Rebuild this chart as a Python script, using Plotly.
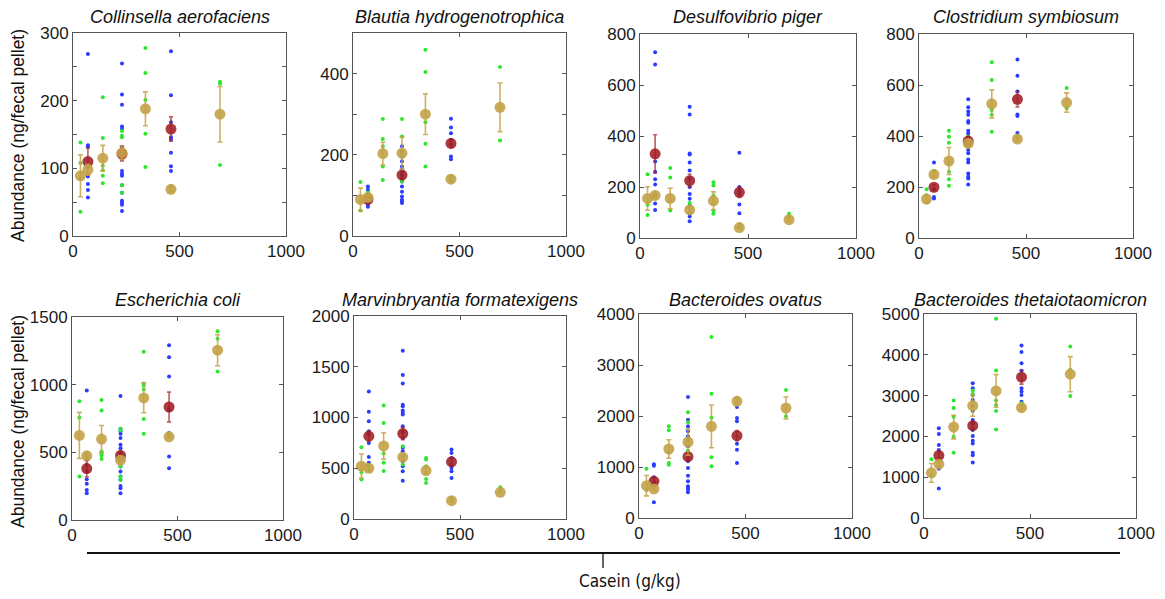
import plotly.graph_objects as go

# ---------------- data ----------------
TITLES = ["Collinsella aerofaciens", "Blautia hydrogenotrophica", "Desulfovibrio piger",
          "Clostridium symbiosum", "Escherichia coli", "Marvinbryantia formatexigens",
          "Bacteroides ovatus", "Bacteroides thetaiotaomicron"]

GOLD_X = [35, 70, 140, 230, 340, 460, 690]   # casein levels (g/kg)
RED_X = [70, 230, 460]

# Collinsella aerofaciens
ca_blue = [[269, 134, 132, 102, 88, 77, 68, 57],
           [255, 209, 194, 162, 158, 132, 129, 126, 96, 92, 89, 75, 64, 52, 49, 46, 37],
           [273, 208, 168, 146, 143, 123, 103, 96]]
ca_green = [[138, 108, 36, 85], [105, 92], [205, 145, 104, 97, 89, 78], [155, 148, 146, 75, 64],
            [278, 241, 201, 151, 102], [74, 66], [228, 225, 105]]
ca_gold = [89, 98, 115, 123, 188, 69, 180]
ca_gold_err = [31, 8, 19, 10, 25, 3, 41]
ca_red = [110, 121, 158]
ca_red_err = [20, 10, 18]

# Blautia hydrogenotrophica
bh_blue = [[122, 114, 105, 97, 89, 80, 77, 72],
           [221, 208, 196, 184, 171, 163, 159, 151, 142, 134, 122, 109, 97, 89, 85, 81],
           [289, 267, 253, 237, 225, 196, 189]]
bh_green = [[133, 63, 85], [107, 97], [288, 239, 221, 171, 138], [288, 245, 200, 134],
            [459, 404, 280, 227, 171], [148, 135], [416, 235]]
bh_gold = [90, 95, 203, 204, 300, 140, 317]
bh_gold_err = [28, 5, 28, 40, 50, 3, 60]
bh_red = [90, 150, 228]
bh_red_err = [8, 10, 10]

# Desulfovibrio piger
dp_blue = [[728, 680, 300, 260, 230, 210, 170, 135, 110],
           [515, 484, 331, 327, 296, 265, 233, 200, 173, 154, 127, 95, 84, 66],
           [334, 200, 173, 131, 97, 185]]
dp_green = [[250, 90, 130], [175, 160], [275, 237, 145, 108], [137, 121, 100],
            [219, 206, 167, 139, 108, 95], [53, 45], [95, 81]]
dp_gold = [155, 167, 155, 110, 146, 41, 72]
dp_gold_err = [46, 6, 40, 8, 35, 4, 6]
dp_red = [330, 225, 179]
dp_red_err = [75, 25, 20]

# Clostridium symbiosum
cs_blue = [[296, 161, 155, 190],
           [544, 513, 496, 483, 459, 452, 421, 410, 397, 384, 361, 345, 332, 308, 296, 253, 240, 233, 210],
           [700, 636, 575, 484, 478, 412]]
cs_green = [[191, 168, 139], [264, 240], [421, 397, 374, 292, 260, 230, 205], [397, 384],
            [689, 620, 502, 483, 417], [393, 400], [588, 509]]
cs_gold = [153, 249, 302, 371, 526, 388, 531]
cs_gold_err = [10, 8, 53, 15, 55, 6, 38]
cs_red = [199, 380, 544]
cs_red_err = [10, 15, 30]

# Escherichia coli
ec_blue = [[956, 445, 408, 358, 301, 267, 222, 198],
           [917, 675, 655, 638, 605, 556, 531, 494, 432, 395, 358, 321, 297, 252, 235, 198],
           [1292, 1203, 1060, 815, 642, 469, 383]]
ec_green = [[877, 758, 321], [494, 470], [887, 810, 506, 494, 477, 450], [675, 662, 395, 321, 297],
            [1243, 1008, 993, 964, 746, 638], [638, 620], [1394, 1339, 1097]]
ec_gold = [625, 474, 598, 442, 902, 615, 1255]
ec_gold_err = [170, 20, 100, 30, 110, 10, 115]
ec_red = [380, 477, 835]
ec_red_err = [60, 30, 110]

# Marvinbryantia formatexigens
mf_blue = [[1257, 1056, 964, 865, 832, 750, 612, 553],
           [1658, 1418, 1336, 1125, 1112, 1069, 1046, 1030, 915, 859, 799, 701, 668, 625, 569, 520, 470, 378],
           [684, 651, 602, 536, 503, 470, 405]]
mf_green = [[707, 388, 460], [520, 480], [1118, 947, 645, 553, 474], [717, 536],
            [602, 586, 520, 454, 395, 355], [207, 190], [312, 280]]
mf_gold = [520, 500, 720, 609, 477, 181, 263]
mf_gold_err = [120, 15, 130, 20, 40, 8, 10]
mf_red = [816, 842, 563]
mf_red_err = [50, 60, 40]

# Bacteroides ovatus
bo_blue = [[1052, 1026, 307, 700, 800],
           [2373, 1928, 1797, 1699, 1601, 1523, 1405, 1111, 980, 830, 719, 621, 588, 556, 503],
           [2176, 1961, 1895, 1458, 1340, 1078]]
bo_green = [[967, 556, 550], [634, 600], [1797, 1719, 1287, 1078, 1045], [2072, 1876, 1320, 1190],
            [3549, 2438, 1967, 1190, 1013], [2353, 2300], [2510, 1993]]
bo_gold = [634, 569, 1353, 1490, 1797, 2288, 2157]
bo_gold_err = [200, 30, 180, 260, 420, 30, 215]
bo_red = [719, 1203, 1614]
bo_red_err = [80, 60, 100]

# Bacteroides thetaiotaomicron
bt_blue = [[2197, 2057, 1787, 1664, 1418, 1205, 721],
           [3303, 3180, 3016, 2893, 2746, 2631, 2402, 2320, 2156, 2008, 1893, 1828, 1598, 1541, 1361],
           [4230, 4066, 3795, 3607, 3180, 3098, 3016, 2852]]
bt_green = [[1443, 1049], [1459, 1418], [2877, 2697, 2484, 1992, 1598], [3123, 3041],
            [4885, 3615, 2877, 2771, 2623, 2172], [2812, 2750], [4205, 3631, 2992]]
bt_gold = [1107, 1320, 2230, 2754, 3115, 2705, 3525]
bt_gold_err = [230, 60, 290, 260, 400, 40, 430]
bt_red = [1533, 2262, 3451]
bt_red_err = [100, 80, 170]

# y-axis: max, tick step, label step
Y_MAX = [300, 500, 800, 800, 1500, 2000, 4000, 5000]
Y_TICK = [50, 100, 200, 200, 500, 500, 1000, 1000]
Y_LABEL = [100, 200, 200, 200, 500, 500, 1000, 1000]
X_TICKS = [0, 500, 1000]

PANELS = [
    (ca_blue, ca_green, ca_gold, ca_gold_err, ca_red, ca_red_err),
    (bh_blue, bh_green, bh_gold, bh_gold_err, bh_red, bh_red_err),
    (dp_blue, dp_green, dp_gold, dp_gold_err, dp_red, dp_red_err),
    (cs_blue, cs_green, cs_gold, cs_gold_err, cs_red, cs_red_err),
    (ec_blue, ec_green, ec_gold, ec_gold_err, ec_red, ec_red_err),
    (mf_blue, mf_green, mf_gold, mf_gold_err, mf_red, mf_red_err),
    (bo_blue, bo_green, bo_gold, bo_gold_err, bo_red, bo_red_err),
    (bt_blue, bt_green, bt_gold, bt_gold_err, bt_red, bt_red_err),
]

# ---------------- layout geometry (pixels) ----------------
W, H = 1165, 599
BOXES = [(73, 286, 33, 236), (353, 566, 33, 236), (640, 856, 34, 238), (919, 1133, 34, 238),
         (72, 283, 317, 520), (354, 566, 316, 519), (639, 852, 314, 518), (924, 1136, 314, 518)]


def px(x):
    return x / W


def py(y):
    return 1 - y / H


BLUE = "#2a3dff"
GREEN = "#2ee62e"
RED = "rgba(160,30,35,0.88)"
RED_BAR = "rgba(165,40,45,0.75)"
GOLD = "rgba(196,162,72,0.9)"
GOLD_BAR = "rgba(196,162,72,0.85)"

fig = go.Figure()
layout = dict(width=W, height=H, margin=dict(l=0, r=0, t=0, b=0, pad=0), autosize=False,
              paper_bgcolor="white", plot_bgcolor="white", showlegend=False)
annotations = []
TICKFONT = dict(family="Liberation Sans, Arial, sans-serif", size=17, color="#1a1a1a")

for i, (blue, green, gold, gold_err, red, red_err) in enumerate(PANELS):
    n = i + 1
    xa = "x" if n == 1 else f"x{n}"
    ya = "y" if n == 1 else f"y{n}"
    x0, x1, y0, y1 = BOXES[i]

    bx, by = [], []
    for lvl, vals in zip(RED_X, blue):
        bx += [lvl] * len(vals)
        by += vals
    gx, gy = [], []
    for lvl, vals in zip(GOLD_X, green):
        gx += [lvl] * len(vals)
        gy += vals

    fig.add_trace(go.Scatter(x=bx, y=by, mode="markers", xaxis=xa, yaxis=ya,
                             marker=dict(color=BLUE, size=4, line=dict(width=0))))
    fig.add_trace(go.Scatter(x=gx, y=gy, mode="markers", xaxis=xa, yaxis=ya,
                             marker=dict(color=GREEN, size=4, line=dict(width=0))))
    fig.add_trace(go.Scatter(x=RED_X, y=red, mode="markers", xaxis=xa, yaxis=ya,
                             marker=dict(color=RED, size=11, line=dict(width=0)),
                             error_y=dict(type="data", array=red_err, color=RED_BAR,
                                          thickness=1.6, width=2)))
    fig.add_trace(go.Scatter(x=GOLD_X, y=gold, mode="markers", xaxis=xa, yaxis=ya,
                             marker=dict(color=GOLD, size=11, line=dict(width=0)),
                             error_y=dict(type="data", array=gold_err, color=GOLD_BAR,
                                          thickness=1.6, width=2.5)))

    yvals = list(range(0, Y_MAX[i] + 1, Y_TICK[i]))
    ytext = [str(v) if v % Y_LABEL[i] == 0 else "" for v in yvals]

    axis_common = dict(showline=True, linecolor="#555", linewidth=1, mirror="ticks",
                       ticks="inside", ticklen=4, tickcolor="#555", showgrid=False,
                       zeroline=False, tickfont=TICKFONT, automargin=False)
    layout["xaxis" if n == 1 else f"xaxis{n}"] = dict(
        domain=[px(x0), px(x1)], range=[0, 1000], tickvals=X_TICKS,
        anchor=ya, **axis_common)
    layout["yaxis" if n == 1 else f"yaxis{n}"] = dict(
        domain=[py(y1), py(y0)], range=[0, Y_MAX[i]], tickvals=yvals, ticktext=ytext,
        anchor=xa, **axis_common)

    annotations.append(dict(text=f"<i>{TITLES[i]}</i>", x=px((x0 + x1) / 2),
                            y=py(17 if i < 4 else 300), xref="paper", yref="paper",
                            xanchor="center", yanchor="middle", showarrow=False,
                            font=dict(family="Liberation Sans, Arial, sans-serif",
                                      size=18, color="#111")))

for yc in (136, 422):
    annotations.append(dict(text="Abundance (ng/fecal pellet)", x=px(18), y=py(yc),
                            xref="paper", yref="paper", textangle=-90,
                            xanchor="center", yanchor="middle", showarrow=False,
                            font=dict(family="Liberation Sans, Arial, sans-serif",
                                      size=17.5, color="#111")))

annotations.append(dict(text="Casein (g/kg)", x=px(577), y=py(581), xref="paper",
                        yref="paper", xanchor="left", yanchor="middle", showarrow=False,
                        font=dict(family="Liberation Sans Narrow, DejaVu Sans Condensed, sans-serif",
                                  size=17, color="#111")))

layout["annotations"] = annotations
layout["shapes"] = [
    dict(type="line", xref="paper", yref="paper", x0=px(87), x1=px(1120),
         y0=py(553), y1=py(553), line=dict(color="#111", width=2)),
    dict(type="line", xref="paper", yref="paper", x0=px(603), x1=px(603),
         y0=py(553), y1=py(568), line=dict(color="#111", width=1.3)),
]

fig.update_layout(**layout)
fig.write_html("out.html", config={"displayModeBar": False},
               post_script="document.body.style.margin='0';document.body.style.overflow='hidden';")
